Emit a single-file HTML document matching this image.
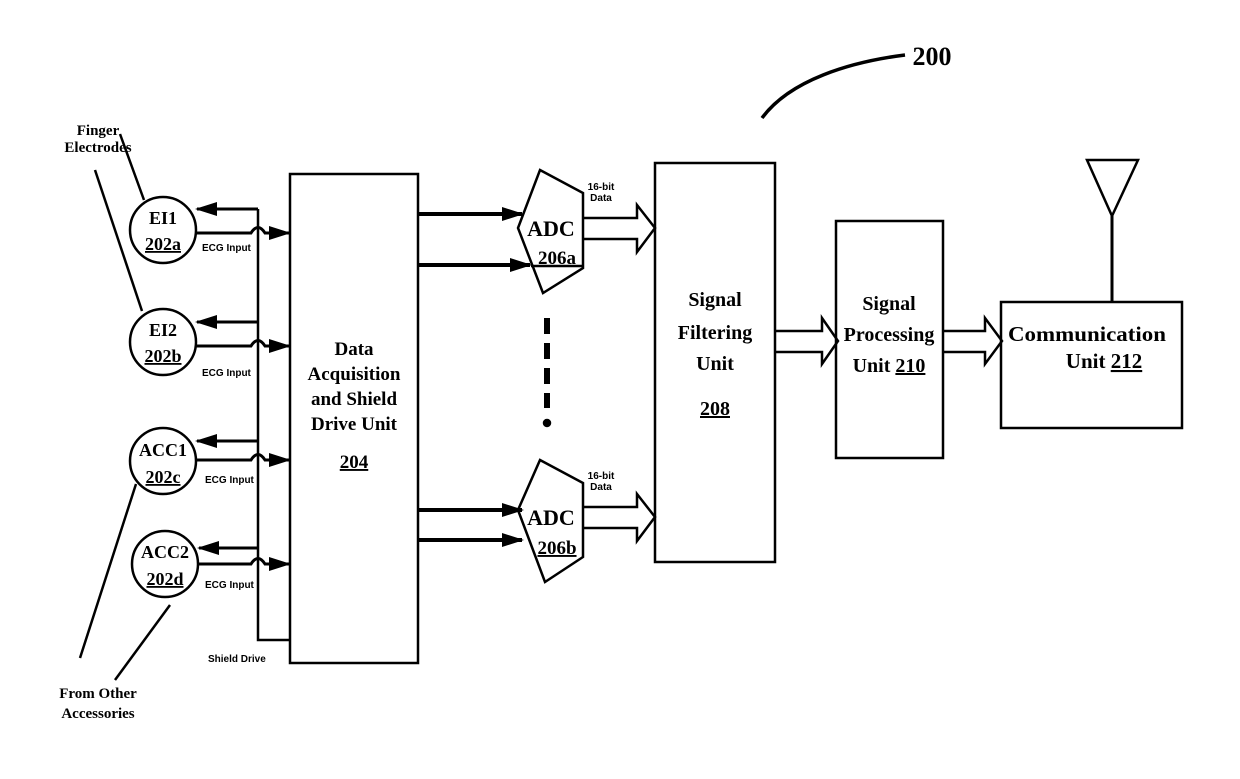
<!DOCTYPE html>
<html><head><meta charset="utf-8"><style>
html,body{margin:0;padding:0;background:#fff;}
svg{display:block;}
text{font-family:"Liberation Serif",serif;font-weight:bold;fill:#000;}
.s{font-family:"Liberation Sans",sans-serif;}
</style></head><body>
<svg width="1240" height="779" viewBox="0 0 1240 779" xmlns="http://www.w3.org/2000/svg">
<defs>
<marker id="b" markerWidth="22" markerHeight="14" refX="20" refY="7" orient="auto" markerUnits="userSpaceOnUse"><path d="M0,0 L22,7 L0,14 z" fill="#000"/></marker>
</defs>
<g stroke="#000" fill="none" stroke-width="2.5">
<path d="M762,118 C790,80 850,62 905,55" stroke-width="3.5"/>
<line x1="120" y1="134" x2="144" y2="200"/>
<line x1="95" y1="170" x2="142" y2="311"/>
<line x1="136" y1="484" x2="80" y2="658"/>
<line x1="170" y1="605" x2="115" y2="680"/>
<circle cx="163" cy="230" r="33"/>
<circle cx="163" cy="342" r="33"/>
<circle cx="163" cy="461" r="33"/>
<circle cx="165" cy="564" r="33"/>
<path d="M258,209 L258,640 L290,640"/>
<line x1="258" y1="209" x2="197" y2="209" stroke-width="3" marker-end="url(#b)"/>
<line x1="258" y1="322" x2="197" y2="322" stroke-width="3" marker-end="url(#b)"/>
<line x1="258" y1="441" x2="197" y2="441" stroke-width="3" marker-end="url(#b)"/>
<line x1="258" y1="548" x2="199" y2="548" stroke-width="3" marker-end="url(#b)"/>
<path d="M196,233 L251,233 Q258,222 265,233 L289,233" stroke-width="3" marker-end="url(#b)"/>
<path d="M196,346 L251,346 Q258,335 265,346 L289,346" stroke-width="3" marker-end="url(#b)"/>
<path d="M196,460 L251,460 Q258,449 265,460 L289,460" stroke-width="3" marker-end="url(#b)"/>
<path d="M198,564 L251,564 Q258,553 265,564 L289,564" stroke-width="3" marker-end="url(#b)"/>
<rect x="290" y="174" width="128" height="489"/>
<line x1="418" y1="214" x2="522" y2="214" stroke-width="4" marker-end="url(#b)"/>
<line x1="418" y1="265" x2="530" y2="265" stroke-width="4" marker-end="url(#b)"/>
<line x1="418" y1="510" x2="522" y2="510" stroke-width="4" marker-end="url(#b)"/>
<line x1="418" y1="540" x2="522" y2="540" stroke-width="4" marker-end="url(#b)"/>
<path d="M540,170 L583,193 L583,268 L543,293 L518,228 Z"/>
<path d="M540,460 L583,483 L583,557 L545,582 L518,510 Z"/>
<line x1="531" y1="266" x2="583" y2="266"/>
<path d="M547,318 L547,408" stroke-width="6" stroke-dasharray="16,9"/>
<circle cx="547" cy="423" r="3" fill="#000"/>
<path d="M583,218 L637,218 L637,205 L655,228 L637,252 L637,239 L583,239"/>
<path d="M583,507 L637,507 L637,494 L655,517 L637,541 L637,528 L583,528"/>
<path d="M775,331 L822,331 L822,318 L838,341 L822,364 L822,352 L775,352"/>
<path d="M943,331 L985,331 L985,318 L1002,341 L985,364 L985,352 L943,352"/>
<rect x="655" y="163" width="120" height="399"/>
<rect x="836" y="221" width="107" height="237"/>
<rect x="1001" y="302" width="181" height="126"/>
<path d="M1087,160 L1138,160 L1112,216 Z"/>
<line x1="1112" y1="216" x2="1112" y2="302" stroke-width="3"/>
</g>
<text x="932" y="65" font-size="26" text-anchor="middle">200</text>
<text x="98" y="135" font-size="15" text-anchor="middle">Finger</text>
<text x="98" y="152" font-size="15" text-anchor="middle">Electrodes</text>
<text x="98" y="698" font-size="15" text-anchor="middle">From Other</text>
<text x="98" y="718" font-size="15" text-anchor="middle">Accessories</text>
<g font-size="18" text-anchor="middle">
<text x="163" y="224">EI1</text>
<text x="163" y="250" text-decoration="underline">202a</text>
<text x="163" y="336">EI2</text>
<text x="163" y="362" text-decoration="underline">202b</text>
<text x="163" y="456">ACC1</text>
<text x="163" y="483" text-decoration="underline">202c</text>
<text x="165" y="558">ACC2</text>
<text x="165" y="585" text-decoration="underline">202d</text>
</g>
<g font-size="10">
<text x="202" y="251" class="s">ECG Input</text>
<text x="202" y="376" class="s">ECG Input</text>
<text x="205" y="483" class="s">ECG Input</text>
<text x="205" y="588" class="s">ECG Input</text>
<text x="208" y="662" class="s">Shield Drive</text>
<text x="601" y="190" class="s" text-anchor="middle">16-bit</text>
<text x="601" y="201" class="s" text-anchor="middle">Data</text>
<text x="601" y="479" class="s" text-anchor="middle">16-bit</text>
<text x="601" y="490" class="s" text-anchor="middle">Data</text>
</g>
<g font-size="19" text-anchor="middle">
<text x="354" y="355">Data</text>
<text x="354" y="380">Acquisition</text>
<text x="354" y="405">and Shield</text>
<text x="354" y="430">Drive Unit</text>
<text x="354" y="468" text-decoration="underline">204</text>
<text x="551" y="236" font-size="22">ADC</text>
<text x="557" y="264" text-decoration="underline">206a</text>
<text x="551" y="525" font-size="22">ADC</text>
<text x="557" y="554" text-decoration="underline">206b</text>
<text x="715" y="306" font-size="20">Signal</text>
<text x="715" y="339" font-size="20">Filtering</text>
<text x="715" y="370" font-size="20">Unit</text>
<text x="715" y="415" font-size="20" text-decoration="underline">208</text>
<text x="889" y="310" font-size="20">Signal</text>
<text x="889" y="341" font-size="20">Processing</text>
<text x="889" y="372" font-size="20">Unit <tspan text-decoration="underline">210</tspan></text>
<text x="1087" y="341" font-size="21" textLength="158" lengthAdjust="spacingAndGlyphs">Communication</text>
<text x="1104" y="368" font-size="21">Unit <tspan text-decoration="underline">212</tspan></text>
</g>
</svg>
</body></html>
